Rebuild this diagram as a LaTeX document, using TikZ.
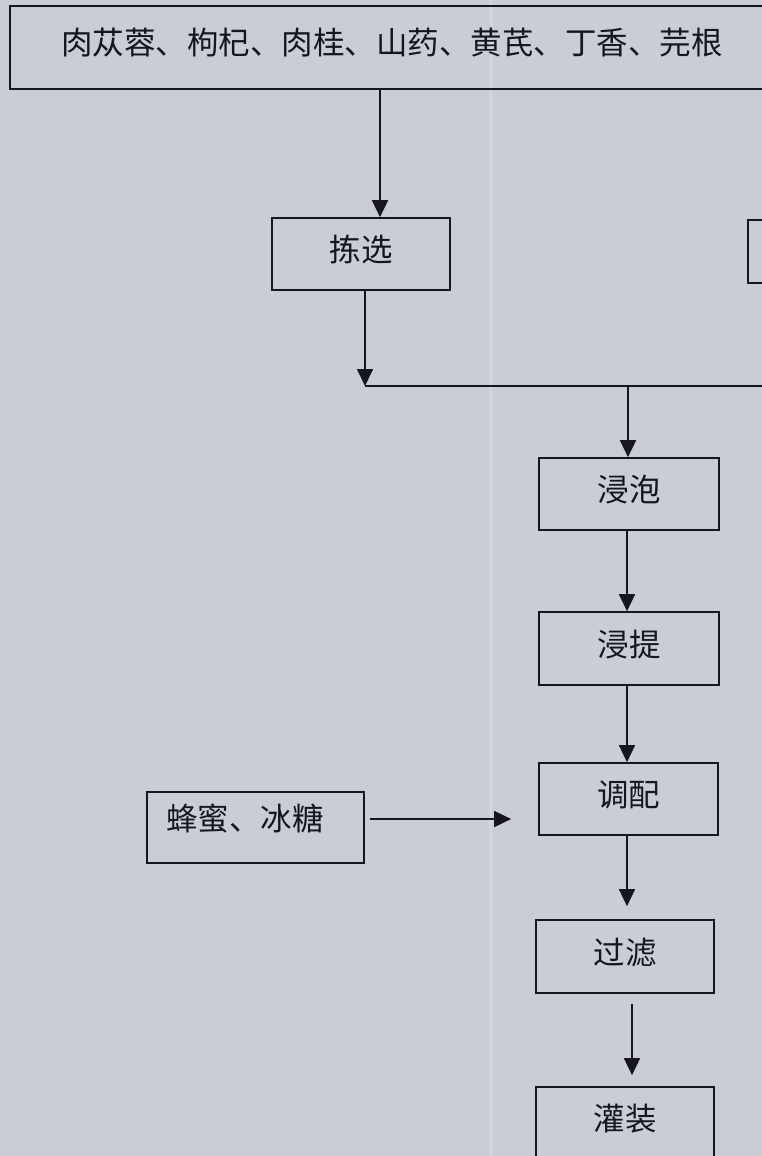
\documentclass[tikz,border=0pt]{standalone}
\usepackage{fontspec}
\newfontfamily\cjk{Noto Sans CJK SC}
\usetikzlibrary{arrows.meta}
\definecolor{bg}{RGB}{200,205,216}
\definecolor{ink}{RGB}{22,22,28}
\newcommand{\lift}[1]{\raisebox{-7.5pt}[0pt][0pt]{#1}}
\begin{document}
\begin{tikzpicture}[x=1pt,y=-1pt,
  box/.style={draw=ink,line width=1.7pt,minimum width=178pt,minimum height=72pt,inner sep=0pt,
    font=\cjk\fontsize{31.5}{36}\selectfont,text=ink},
  lbl/.style={inner sep=0pt,font=\cjk\fontsize{31.5}{36}\selectfont,text=ink},
  arr/.style={draw=ink,line width=1.7pt,-{Triangle[length=17pt,width=16pt]}},
  ln/.style={draw=ink,line width=1.7pt}]
\fill[bg] (0,0) rectangle (762,1156);
\useasboundingbox (0,0) rectangle (762,1156);
\draw[line width=2pt,white,opacity=0.2] (491,0) -- (491,1156);

\node[box,minimum width=764pt,minimum height=83pt] (top) at (392,47.5) {\lift{肉苁蓉、枸杞、肉桂、山药、黄芪、丁香、芫根}};
\node[box] (jx) at (361,254) {\lift{拣选}};
\node[box,minimum width=184pt,minimum height=63pt] (rb) at (840,251.5) {};
\node[box,minimum width=180pt] (jp) at (629,494) {\lift{浸泡}};
\node[box,minimum width=180pt,minimum height=73pt] (jt) at (629,648.5) {\lift{浸提}};
\node[box,minimum width=179pt] (tp) at (628.5,799) {\lift{调配}};
\node[box,minimum height=73pt] (gl) at (625,956.5) {\lift{过滤}};
\node[box,minimum height=80pt] (gz) at (625,1127) {\raisebox{-7.5pt}[0pt][0pt]{\raisebox{4pt}{灌装}}};
\node[box,minimum width=217pt,minimum height=71pt] (fm) at (255.5,827.5) {};
\node[lbl] (fmt) at (245,819) {蜂蜜、冰糖};

\coordinate (a1) at (380,0);
\draw[arr] (top.south -| a1) -- (jx.north -| a1);
\coordinate (m) at (365,386);
\draw[arr] (jx.south -| m) -- (m);
\coordinate (mr) at (780,386);
\draw[ln] (m) -- (mr);
\coordinate (mj) at (628,386);
\draw[arr] (mj) -- (jp.north -| mj);
\coordinate (c2) at (627,0);
\draw[arr] (jp.south -| c2) -- (jt.north -| c2);
\draw[arr] (jt.south -| c2) -- (tp.north -| c2);
\draw[arr,shorten >=13pt] (tp.south -| c2) -- (gl.north -| c2);
\coordinate (c4) at (632,0);
\draw[arr,shorten <=10pt,shorten >=11pt] (gl.south -| c4) -- (gz.north -| c4);
\coordinate (c5) at (0,819);
\draw[arr,shorten <=5pt,shorten >=27pt] (fm.east |- c5) -- (tp.west |- c5);
\end{tikzpicture}
\end{document}
